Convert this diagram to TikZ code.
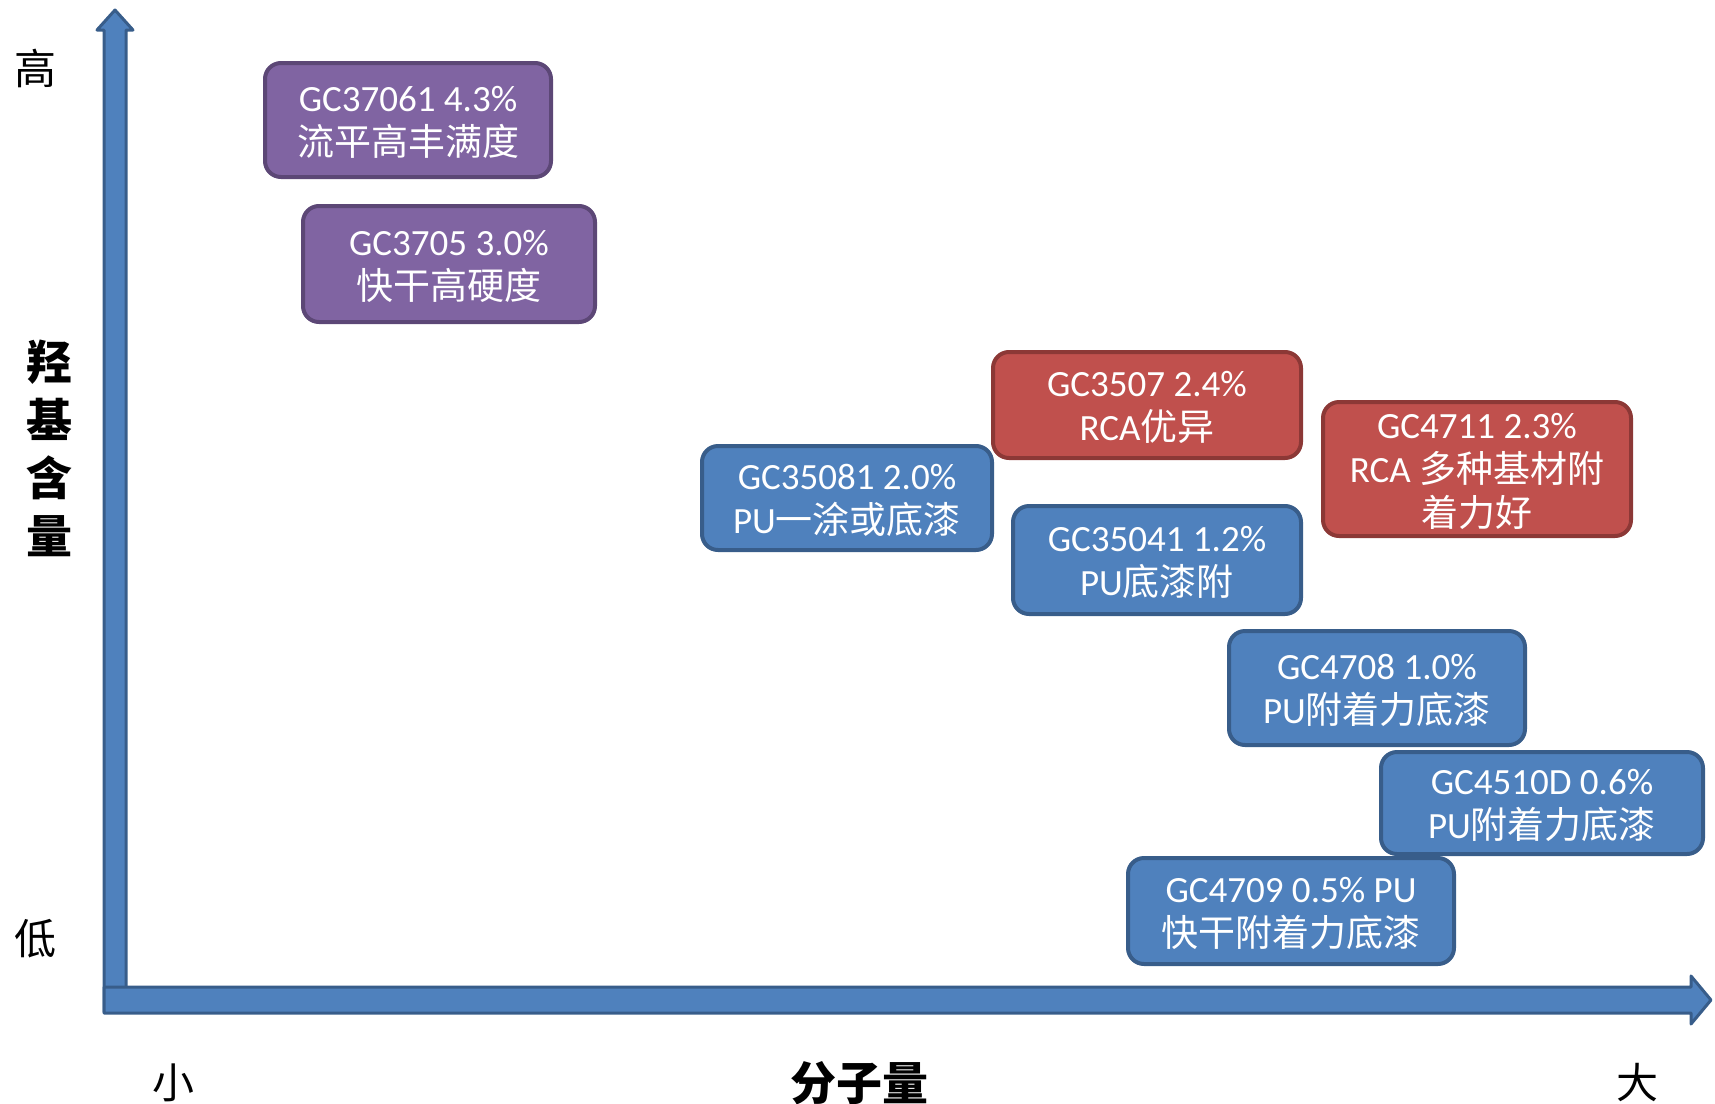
\documentclass[tikz,border=0pt]{standalone}
\usepackage{fontspec}
\setmainfont{Carlito}
\newfontfamily\cjk{Noto Sans CJK SC}
\definecolor{pfill}{HTML}{8064A2}
\definecolor{pline}{HTML}{5C4776}
\definecolor{rfill}{HTML}{C0504D}
\definecolor{rline}{HTML}{8C3836}
\definecolor{bfill}{HTML}{4F81BD}
\definecolor{bline}{HTML}{385D8A}
\newcommand\cardtop{\rule{0pt}{15pt}}
\tikzset{
  card/.style={rectangle, rounded corners=8pt, line width=2pt, text=white, align=center,
    font=\fontsize{18.5}{22}\selectfont, inner sep=0pt},
  pcard/.style={card, fill=pfill, draw=pline},
  rcard/.style={card, fill=rfill, draw=rline},
  bcard/.style={card, fill=bfill, draw=bline},
  axisarrow/.style={fill=bfill, draw=bline, line width=1.5pt, line join=round},
  axtext/.style={font=\cjk\fontsize{21}{21}\selectfont, inner sep=0pt},
  axbold/.style={font=\cjk\bfseries\fontsize{23}{29}\selectfont, inner sep=0pt, align=center}
}
\begin{document}
\begin{tikzpicture}[x=0.5pt,y=-0.5pt]
\useasboundingbox (0,0) rectangle (1715,1104);
% axes
\draw[axisarrow] (104,1012) -- (104,30) -- (97,30) -- (115,10) -- (133,30) -- (126,30) -- (126,1012) -- cycle;
\draw[axisarrow] (104,987) -- (1691,987) -- (1691,976) -- (1711,1000) -- (1691,1024) -- (1691,1013) -- (104,1013) -- cycle;
% axis labels
\node[axtext] (hi) at (35,68) {高};
\node[axtext] (lo) at (35,939) {低};
\node[axbold] (ylab) at (49,448) {羟\\基\\含\\量};
\node[axtext] (small) at (173,1083) {小};
\node[axbold] (xlab) at (859,1083) {分子量};
\node[axtext] (big) at (1637,1083) {大};
% cards
\node[pcard, minimum width=143pt, minimum height=57pt] (c1) at (408,120) {\cardtop GC37061 4.3\%\\{\cjk 流平高丰满度}};
\node[pcard, minimum width=146pt, minimum height=58pt] (c2) at (449,264) {\cardtop GC3705 3.0\%\\{\cjk 快干高硬度}};
\node[rcard, minimum width=154pt, minimum height=53pt] (c3) at (1147,405) {\cardtop GC3507 2.4\%\\RCA{\cjk 优异}};
\node[rcard, minimum width=154pt, minimum height=67pt] (c4) at (1477,469) {\cardtop GC4711 2.3\%\\RCA {\cjk 多种基材附}\\{\cjk 着力好}};
\node[bcard, minimum width=145pt, minimum height=52pt] (c5) at (847,498) {\cardtop GC35081 2.0\%\\PU{\cjk 一涂或底漆}};
\node[bcard, minimum width=144pt, minimum height=54pt] (c6) at (1157,560) {\cardtop GC35041 1.2\%\\PU{\cjk 底漆附}};
\node[bcard, minimum width=148pt, minimum height=57pt] (c7) at (1377,688) {\cardtop GC4708 1.0\%\\PU{\cjk 附着力底漆}};
\node[bcard, minimum width=161pt, minimum height=51pt] (c8) at (1542,803) {\cardtop GC4510D 0.6\%\\PU{\cjk 附着力底漆}};
\node[bcard, minimum width=163pt, minimum height=53pt] (c9) at (1291,911) {\cardtop GC4709 0.5\% PU\\{\cjk 快干附着力底漆}};
\end{tikzpicture}
\end{document}
